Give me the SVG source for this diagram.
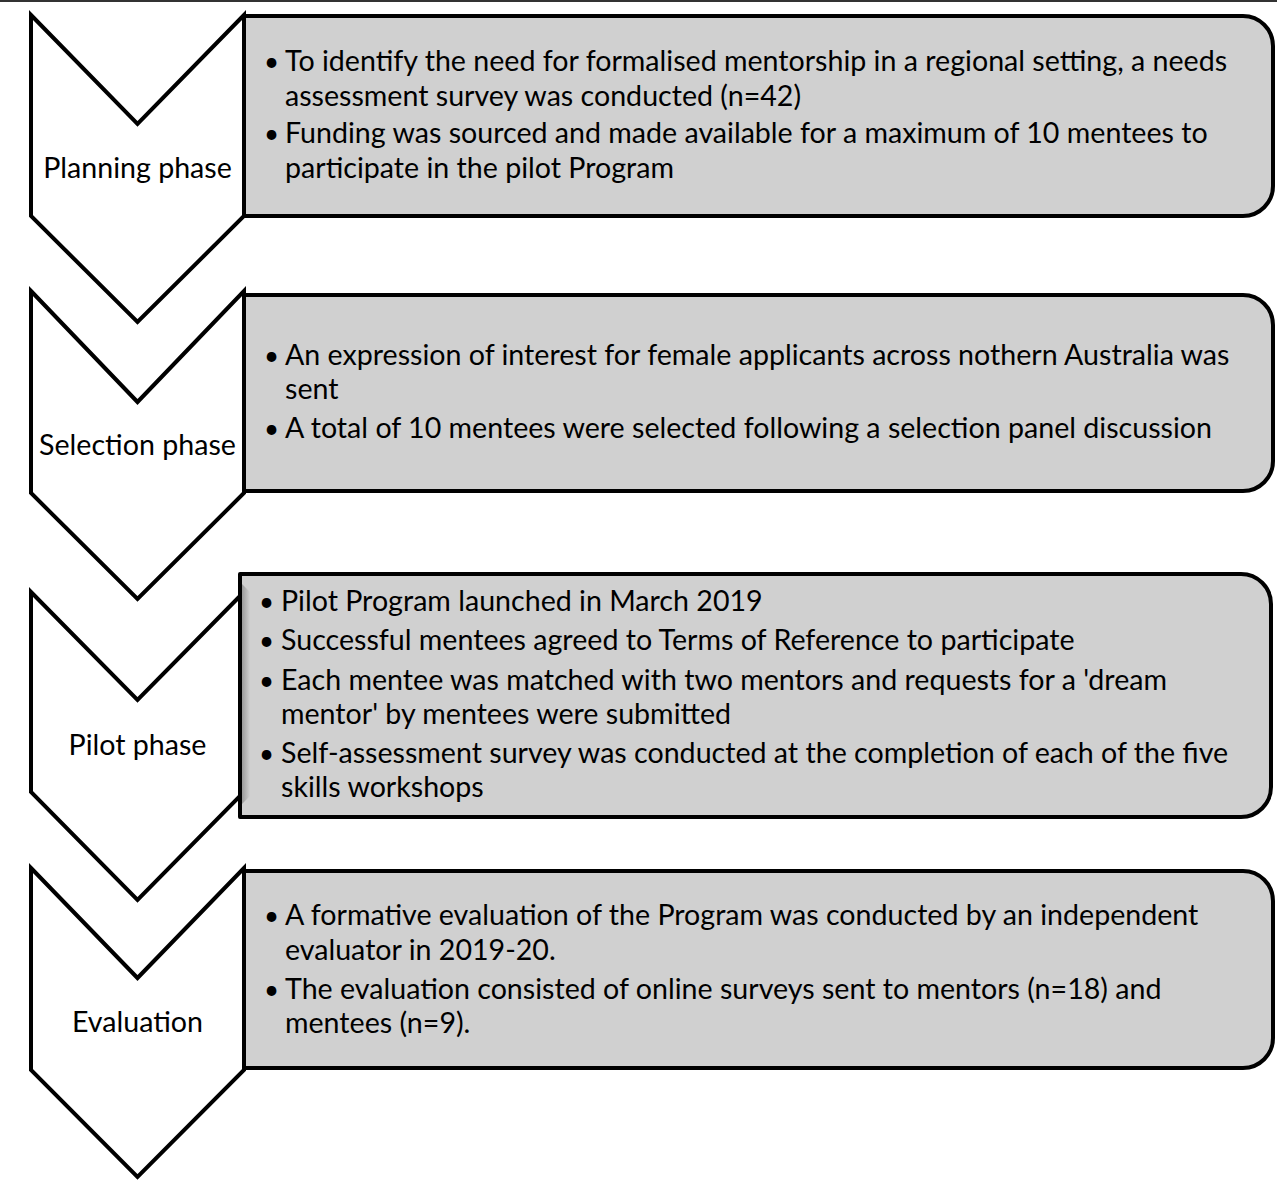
<svg xmlns="http://www.w3.org/2000/svg" width="1277" height="1184" viewBox="0 0 1277 1184">
<style>
.chev{fill:#ffffff;stroke:#000000;stroke-width:4;stroke-linejoin:miter}
.box{fill:#d0d0d0;stroke:#000000;stroke-width:4;stroke-linejoin:round}
.lbl{font-family:Lato,"Open Sans",sans-serif;font-size:28.6px;fill:#000000;text-anchor:middle}
.txt{font-family:Lato,"Open Sans",sans-serif;font-size:28.6px;fill:#000000}
.blt{font-family:Lato,"Open Sans",sans-serif;font-size:26px;fill:#000000}
</style>
<defs>
<linearGradient id="shade" x1="0" y1="0" x2="1" y2="0">
<stop offset="0" stop-color="#9a9a9a"/>
<stop offset="1" stop-color="#d0d0d0"/>
</linearGradient>
</defs>
<rect x="0" y="0" width="1277" height="1184" fill="#ffffff"/>
<line x1="0" y1="1" x2="1277" y2="1" stroke="#333333" stroke-width="2"/>

<g id="planning-phase">
<polygon class="chev" points="31,15 137.5,124 244,15 244,216 137.5,322 31,216"/>
<text class="lbl" x="137.5" y="178">Planning phase</text>
</g>
<g id="selection-phase">
<polygon class="chev" points="31,291 137.5,402 244,291 244,493 137.5,599 31,493"/>
<text class="lbl" x="137.5" y="455">Selection phase</text>
</g>
<g id="pilot-phase">
<polygon class="chev" points="31,592 137.5,700 244,592 244,792 137.5,900 31,792"/>
<text class="lbl" x="137.5" y="755">Pilot phase</text>
</g>
<g id="evaluation-phase">
<polygon class="chev" points="31,868 137.5,978 244,868 244,1070 137.5,1177 31,1070"/>
<text class="lbl" x="137.5" y="1032">Evaluation</text>
</g>

<g id="planning-details">
<path class="box" d="M244,16 H1243 A30,30 0 0 1 1273,46 V186 A30,30 0 0 1 1243,216 H244 Z"/>
<text class="blt" x="264" y="71">•</text>
<text class="txt" x="285" y="71">To identify the need for formalised mentorship in a regional setting, a needs</text>
<text class="txt" x="285" y="106">assessment survey was conducted (n=42)</text>
<text class="blt" x="264" y="143">•</text>
<text class="txt" x="285" y="143">Funding was sourced and made available for a maximum of 10 mentees to</text>
<text class="txt" x="285" y="178">participate in the pilot Program</text>
</g>

<g id="selection-details">
<path class="box" d="M244,295 H1243 A30,30 0 0 1 1273,325 V461 A30,30 0 0 1 1243,491 H244 Z"/>
<text class="blt" x="264" y="365">•</text>
<text class="txt" x="285" y="365">An expression of interest for female applicants across nothern Australia was</text>
<text class="txt" x="285" y="399">sent</text>
<text class="blt" x="264" y="438">•</text>
<text class="txt" x="285" y="438">A total of 10 mentees were selected following a selection panel discussion</text>
</g>

<g id="pilot-details">
<path class="box" d="M240,574 H1241 A30,30 0 0 1 1271,604 V787 A30,30 0 0 1 1241,817 H240 Z"/>
<polygon points="242,584 250,592 250,796 242,804" fill="url(#shade)"/>
<text class="blt" x="259" y="611">•</text>
<text class="txt" x="281" y="611">Pilot Program launched in March 2019</text>
<text class="blt" x="259" y="650">•</text>
<text class="txt" x="281" y="650">Successful mentees agreed to Terms of Reference to participate</text>
<text class="blt" x="259" y="690">•</text>
<text class="txt" x="281" y="690">Each mentee was matched with two mentors and requests for a 'dream</text>
<text class="txt" x="281" y="724">mentor' by mentees were submitted</text>
<text class="blt" x="259" y="763">•</text>
<text class="txt" x="281" y="763">Self-assessment survey was conducted at the completion of each of the five</text>
<text class="txt" x="281" y="797">skills workshops</text>
</g>

<g id="evaluation-details">
<path class="box" d="M244,871 H1243 A30,30 0 0 1 1273,901 V1038 A30,30 0 0 1 1243,1068 H244 Z"/>
<text class="blt" x="264" y="925">•</text>
<text class="txt" x="285" y="925">A formative evaluation of the Program was conducted by an independent</text>
<text class="txt" x="285" y="960">evaluator in 2019-20.</text>
<text class="blt" x="264" y="999">•</text>
<text class="txt" x="285" y="999">The evaluation consisted of online surveys sent to mentors (n=18) and</text>
<text class="txt" x="285" y="1033">mentees (n=9).</text>
</g>
</svg>
